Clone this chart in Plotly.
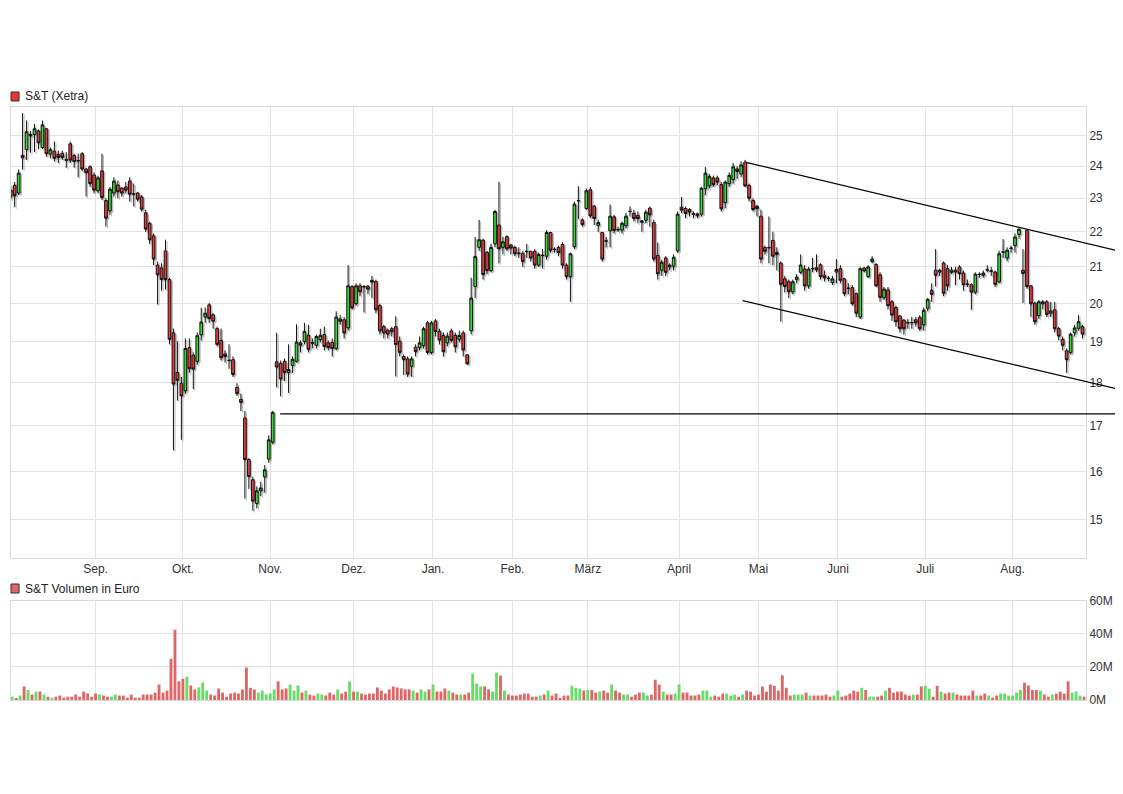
import math
import plotly.graph_objects as go

# ---------------- data ----------------
opens = [23.0, 23.35, 23.11, 24.3, 24.48, 24.98, 24.98, 25.1, 24.55, 25.17,
         24.34, 24.43, 24.32, 24.36, 24.16, 24.67, 24.29, 24.13, 24.35, 23.86,
         23.93, 23.67, 23.18, 23.8, 22.88, 22.57, 23.11, 23.36, 23.26, 23.3,
         23.48, 23.09, 23.11, 22.99, 22.51, 22.2, 21.83, 21.0, 20.92, 21.4,
         20.6, 19.19, 18.21, 17.95, 17.77, 18.82, 18.63, 18.48, 19.14, 19.6,
         19.92, 19.66, 19.3, 19.0, 18.66, 18.51, 18.52, 17.85, 17.57, 17.14,
         16.22, 15.79, 15.3, 15.56, 15.85, 16.23, 16.6, 18.47, 18.43, 18.48,
         18.21, 18.38, 18.48, 18.94, 18.97, 19.13, 18.95, 18.88, 19.02, 19.15,
         18.94, 18.95, 18.8, 19.55, 19.53, 19.32, 20.41, 19.95, 20.43, 20.41,
         20.42, 20.58, 20.55, 19.9, 19.35, 19.26, 19.3, 19.35, 18.98, 18.6,
         18.54, 18.36, 18.83, 18.82, 18.87, 19.45, 18.7, 19.5, 19.23, 19.13,
         18.94, 19.24, 19.13, 19.03, 19.19, 18.64, 19.25, 20.41, 21.5, 21.71,
         21.36, 20.85, 21.6, 22.15, 21.5, 21.81, 21.57, 21.5, 21.34, 21.33,
         21.39, 21.39, 21.39, 21.0, 21.28, 21.25, 21.93, 21.45, 21.5, 21.58,
         21.0, 20.68, 21.52, 22.87, 22.3, 22.64, 23.21, 22.71, 22.14, 21.93,
         21.69, 21.98, 22.39, 22.02, 22.0, 22.13, 22.56, 22.49, 22.43, 22.23,
         22.29, 22.65, 22.22, 21.27, 20.86, 21.2, 21.0, 20.97, 21.4, 22.68,
         22.64, 22.61, 22.48, 22.48, 22.47, 23.24, 23.33, 23.58, 23.58, 23.37,
         22.82, 23.4, 23.53, 23.86, 23.7, 24.08, 23.35, 22.88, 22.71, 22.41,
         21.5, 21.5, 21.7, 21.36, 21.06, 20.62, 20.54, 20.27, 20.6, 20.8,
         20.89, 20.43, 20.91, 20.93, 21.01, 20.72, 20.64, 20.52, 20.81, 20.9,
         20.62, 20.37, 20.38, 20.22, 19.6, 20.92, 20.68, 21.1, 21.02, 20.73,
         20.11, 20.32, 20.0, 19.85, 19.63, 19.52, 19.46, 19.45, 19.53, 19.59,
         19.4, 19.83, 20.31, 20.86, 20.81, 21.06, 20.9, 20.8, 20.86, 20.95,
         20.78, 20.48, 20.46, 20.26, 20.75, 20.78, 20.86, 20.84, 20.81, 20.54,
         21.36, 21.2, 21.47, 21.55, 21.87, 20.86, 21.99, 20.43, 19.97, 19.64,
         20.0, 20.0, 19.7, 19.79, 19.3, 19.03, 18.74, 18.7, 19.19, 19.31,
         19.35]

highs = [23.35, 23.45, 23.84, 25.7, 25.45, 25.1, 25.33, 25.15, 25.45, 25.2,
         24.55, 24.75, 24.45, 24.45, 24.4, 24.75, 24.35, 24.35, 24.4, 23.9,
         23.98, 23.75, 23.65, 24.35, 22.95, 23.3, 23.6, 23.5, 23.3, 23.45,
         23.6, 23.4, 23.15, 23.05, 22.6, 22.25, 21.9, 21.1, 21.05, 21.72,
         20.65, 19.3, 18.98, 18.1, 19.05, 19.05, 18.7, 19.2, 19.84, 19.85,
         19.97, 19.7, 19.35, 19.3, 18.75, 18.9, 18.6, 17.95, 17.7, 17.3,
         16.25, 15.85, 15.65, 15.75, 16.1, 16.75, 17.3, 19.19, 18.5, 18.55,
         18.9, 18.6, 19.41, 19.0, 19.45, 19.4, 19.05, 19.15, 19.3, 19.35,
         19.0, 19.05, 19.75, 19.65, 19.6, 21.0, 20.45, 20.5, 20.5, 20.45,
         20.45, 20.7, 20.6, 19.95, 19.4, 19.3, 19.35, 19.62, 19.1, 18.65,
         18.6, 18.6, 18.9, 19.1, 19.35, 19.5, 19.5, 19.55, 19.3, 19.2,
         19.2, 19.3, 19.2, 19.25, 19.25, 18.66, 20.65, 21.8, 22.3, 21.75,
         21.4, 21.6, 22.6, 23.46, 21.8, 21.85, 21.6, 21.55, 21.5, 21.4,
         21.6, 21.4, 21.45, 21.35, 21.45, 22.0, 21.95, 21.5, 21.55, 21.65,
         21.05, 21.35, 22.85, 23.32, 22.35, 23.25, 23.3, 22.75, 22.3, 21.95,
         21.8, 22.76, 22.45, 22.1, 22.25, 22.5, 22.7, 22.6, 22.55, 22.3,
         22.6, 22.7, 22.3, 21.64, 21.15, 21.25, 21.05, 21.3, 22.55, 22.99,
         22.7, 22.65, 22.55, 22.52, 23.3, 23.92, 23.7, 23.65, 23.65, 23.45,
         23.5, 23.75, 24.05, 23.95, 24.1, 24.15, 23.4, 22.95, 22.75, 22.6,
         21.55, 22.4, 21.95, 21.5, 21.1, 20.7, 20.6, 20.6, 20.75, 21.3,
         21.0, 20.95, 21.2, 21.3, 21.05, 20.85, 20.7, 20.7, 21.17, 21.0,
         20.65, 20.5, 20.45, 20.25, 20.95, 20.95, 21.0, 21.25, 21.05, 20.8,
         20.4, 20.4, 20.05, 19.9, 19.65, 19.55, 19.55, 19.6, 19.6, 19.65,
         19.85, 20.1, 20.5, 21.45, 20.9, 21.1, 21.0, 20.95, 20.95, 21.0,
         20.85, 20.6, 20.5, 20.8, 20.8, 20.85, 21.0, 20.95, 20.85, 21.4,
         21.74, 21.5, 21.55, 21.9, 22.05, 21.45, 22.0, 20.45, 20.0, 20.05,
         20.05, 20.05, 20.0, 20.0, 19.35, 19.1, 18.8, 19.2, 19.4, 19.65,
         19.4]

lows = [22.9, 22.68, 23.05, 23.84, 24.15, 24.38, 24.4, 24.5, 24.5, 24.25,
        24.2, 24.1, 24.05, 24.15, 23.9, 24.05, 23.9, 23.6, 23.8, 23.0,
        23.3, 23.1, 23.1, 22.9, 22.1, 22.45, 23.0, 22.95, 23.0, 23.1,
        22.85, 22.7, 22.85, 22.55, 21.95, 21.6, 21.0, 19.93, 20.3, 20.33,
        18.9, 16.42, 17.54, 16.65, 17.7, 18.2, 17.81, 18.4, 19.0, 19.45,
        19.45, 19.3, 18.85, 18.5, 18.45, 18.3, 18.1, 17.65, 17.3, 15.4,
        15.6, 15.15, 15.2, 15.45, 15.52, 16.15, 16.55, 17.85, 17.64, 18.0,
        17.72, 18.2, 18.45, 18.7, 18.9, 18.7, 18.8, 18.8, 18.95, 18.75,
        18.75, 18.6, 18.75, 19.4, 19.05, 19.25, 19.8, 19.9, 20.15, 19.72,
        20.2, 20.1, 19.7, 19.15, 19.05, 19.05, 19.1, 18.11, 18.6, 18.15,
        18.1, 18.1, 18.6, 18.75, 18.8, 18.65, 18.65, 19.1, 18.9, 18.6,
        18.85, 18.95, 18.7, 18.95, 18.6, 18.4, 19.15, 20.1, 21.4, 20.6,
        20.75, 20.8, 21.5, 21.05, 21.3, 21.4, 21.3, 21.25, 21.2, 20.95,
        21.2, 21.1, 20.9, 20.95, 20.9, 21.15, 21.35, 21.35, 21.25, 20.9,
        20.6, 20.0, 21.45, 22.32, 22.1, 22.6, 22.35, 22.15, 21.95, 21.1,
        21.5, 21.5, 21.9, 21.95, 21.9, 22.05, 22.4, 22.25, 22.2, 21.95,
        22.2, 22.1, 21.1, 20.6, 20.7, 20.7, 20.85, 20.85, 21.35, 22.5,
        22.35, 22.4, 22.35, 22.35, 22.4, 23.04, 23.25, 23.3, 23.35, 22.55,
        22.65, 23.3, 23.4, 23.55, 23.6, 23.3, 22.85, 22.55, 22.4, 21.05,
        21.3, 21.05, 21.0, 20.85, 19.48, 20.25, 20.1, 20.2, 20.5, 20.75,
        20.3, 20.35, 20.8, 20.8, 20.6, 20.55, 20.55, 20.45, 20.5, 20.5,
        20.15, 20.2, 19.9, 19.6, 19.55, 20.8, 20.65, 21.05, 20.4, 20.0,
        20.05, 19.8, 19.5, 19.35, 19.2, 19.15, 19.3, 19.3, 19.35, 19.25,
        19.25, 19.75, 20.0, 20.41, 20.7, 20.15, 20.3, 20.75, 20.45, 20.6,
        20.3, 20.4, 19.79, 20.2, 20.65, 20.65, 20.8, 20.7, 20.4, 20.5,
        21.2, 21.1, 21.35, 21.35, 21.75, 19.97, 20.35, 19.6, 19.4, 19.55,
        19.8, 19.6, 19.6, 19.2, 19.0, 18.75, 18.2, 18.65, 19.1, 19.25,
        19.05]

closes = [23.2, 23.03, 23.73, 24.22, 25.07, 24.93, 25.17, 24.7, 25.3, 24.35,
          24.48, 24.2, 24.23, 24.23, 24.14, 24.14, 24.1, 24.12, 23.86, 23.74,
          23.4, 23.2, 23.58, 22.97, 22.35, 23.23, 23.48, 23.15, 23.11, 23.2,
          23.07, 23.08, 22.92, 22.62, 22.03, 21.72, 21.17, 20.73, 20.6, 20.6,
          19.03, 17.93, 18.02, 17.65, 18.8, 18.3, 18.29, 19.12, 19.47, 19.7,
          19.56, 19.49, 18.9, 18.57, 18.6, 18.5, 18.16, 17.71, 17.5, 16.22,
          15.86, 15.35, 15.56, 15.62, 16.0, 16.65, 17.27, 18.34, 18.05, 18.21,
          18.28, 18.53, 18.96, 18.88, 19.23, 18.78, 18.93, 19.1, 19.13, 18.85,
          18.82, 18.8, 19.6, 19.49, 19.19, 20.43, 19.84, 20.43, 20.27, 20.4,
          20.34, 20.53, 19.79, 19.24, 19.19, 19.16, 19.22, 18.9, 18.7, 18.52,
          18.17, 18.54, 18.72, 18.94, 19.3, 18.7, 19.45, 19.23, 19.01, 18.72,
          19.11, 19.0, 18.84, 19.13, 18.76, 18.42, 20.1, 21.24, 21.72, 20.74,
          20.85, 21.5, 22.55, 21.46, 21.66, 21.46, 21.48, 21.32, 21.33, 21.1,
          21.38, 21.2, 21.0, 21.3, 21.27, 21.93, 21.42, 21.44, 21.35, 21.0,
          20.68, 21.32, 22.77, 22.88, 22.16, 23.18, 22.42, 22.34, 22.22, 21.17,
          21.68, 22.41, 21.99, 22.01, 22.2, 22.41, 22.55, 22.34, 22.34, 22.27,
          22.53, 22.45, 21.17, 20.76, 21.08, 20.8, 20.95, 21.22, 22.47, 22.59,
          22.49, 22.53, 22.47, 22.42, 23.26, 23.73, 23.62, 23.37, 23.45, 22.63,
          23.45, 23.66, 23.93, 23.78, 23.99, 23.33, 22.95, 22.61, 22.64, 21.17,
          21.39, 21.49, 21.25, 21.3, 20.47, 20.41, 20.27, 20.54, 20.67, 21.0,
          20.43, 20.89, 20.9, 20.87, 20.68, 20.65, 20.63, 20.62, 20.88, 20.58,
          20.22, 20.36, 19.95, 19.7, 20.9, 20.84, 20.95, 21.17, 20.43, 20.12,
          20.34, 19.9, 19.65, 19.48, 19.3, 19.3, 19.45, 19.46, 19.45, 19.3,
          19.78, 20.07, 20.2, 20.72, 20.86, 20.23, 20.43, 20.86, 20.81, 20.76,
          20.46, 20.47, 20.26, 20.75, 20.74, 20.72, 20.87, 20.83, 20.47, 21.32,
          21.37, 21.42, 21.48, 21.8, 22.03, 20.77, 20.41, 19.95, 19.48, 20.0,
          19.95, 19.67, 19.76, 19.3, 19.11, 18.88, 18.52, 19.16, 19.32, 19.48,
          19.16]

# traded volume in million euro
volumes_m = [2.0, 1.2, 2.7, 8.2, 6.1, 3.3, 5.1, 5.1, 3.3, 2.0,
             1.4, 2.0, 2.7, 1.4, 2.0, 2.0, 3.3, 2.0, 5.1, 3.9,
             2.0, 3.9, 3.3, 2.7, 2.0, 2.0, 3.3, 2.7, 2.7, 1.4,
             3.3, 1.4, 1.4, 3.3, 3.3, 3.3, 4.5, 9.4, 4.5, 5.7,
             25.0, 42.6, 11.3, 12.9, 14.1, 8.8, 6.4, 7.6, 10.7, 5.7,
             3.3, 2.7, 7.0, 4.5, 2.0, 3.9, 4.5, 3.9, 6.4, 19.7,
             7.4, 6.4, 4.5, 5.7, 3.3, 3.9, 6.4, 11.3, 6.4, 7.0,
             9.4, 5.7, 8.8, 4.5, 5.7, 3.3, 2.7, 3.9, 3.3, 2.7,
             4.5, 3.3, 6.4, 3.9, 5.1, 11.3, 5.1, 5.1, 3.9, 3.3,
             3.9, 3.9, 7.6, 5.7, 3.9, 6.4, 8.2, 7.6, 7.0, 6.4,
             6.4, 5.7, 4.5, 6.4, 5.1, 6.4, 9.4, 5.1, 5.1, 7.0,
             5.7, 4.5, 3.3, 3.3, 3.3, 4.5, 16.0, 10.0, 8.2, 8.2,
             6.4, 5.1, 16.6, 14.8, 5.7, 3.3, 2.7, 2.7, 3.3, 3.9,
             3.9, 2.0, 2.0, 2.7, 3.3, 5.7, 2.7, 3.9,
             1.2, 2.7, 2.7, 8.6, 7.4, 6.8, 5.7, 6.1, 6.1, 4.5,
             5.1, 5.7, 4.5, 9.4, 5.7, 4.5, 3.3, 3.3, 2.0, 3.3,
             4.5, 4.5, 2.7, 3.3, 12.3, 9.4, 5.1, 3.3, 3.3, 3.9,
             9.4, 4.5, 4.5, 2.7, 2.7, 3.3, 5.7, 5.7, 2.0, 2.7,
             2.0, 3.9, 3.9, 2.7, 3.3, 2.0, 3.3, 5.7, 5.1, 2.7,
             3.3, 8.2, 5.1, 9.4, 8.6, 5.7, 15.0, 7.4, 2.7, 3.3,
             3.3, 3.3, 4.5, 2.7, 2.7, 2.7, 2.7, 3.3, 2.0, 2.7,
             5.7, 2.0, 2.7, 3.9, 5.7, 5.1, 7.4, 6.1, 2.0, 2.0,
             2.0, 2.7, 5.7, 7.4, 4.5, 5.1, 5.1, 3.3, 2.7, 3.3,
             3.3, 8.2, 8.6, 6.8, 2.0, 8.6, 5.1, 3.9, 4.5, 4.5,
             3.3, 2.7, 2.7, 2.7, 5.7, 2.7, 2.7, 3.9, 2.7, 1.4,
             2.7, 3.9, 3.9, 2.7, 2.7, 4.5, 6.1, 10.5, 8.8, 6.1,
             6.1, 5.7, 3.3, 2.0, 3.3, 3.9, 5.1, 3.9, 11.3, 4.5,
             5.1, 2.7, 2.0]

# month boundaries (trading-day index) and labels
month_pos = [21, 43, 65, 86, 106, 126, 145, 168, 188, 208, 230, 252]
month_labels = ["Sep.", "Okt.", "Nov.", "Dez.", "Jan.", "Feb.", "März",
                "April", "Mai", "Juni", "Juli", "Aug."]

price_ticks = [15, 16, 17, 18, 19, 20, 21, 22, 23, 24, 25]
vol_ticks_m = [0, 20, 40, 60]
vol_tick_labels = ["0M", "20M", "40M", "60M"]

# drawn trend lines: (trading-day index, price)
upper_idx, upper_px = [185.1, 279.8], [24.11, 21.41]
lower_idx, lower_px = [184.0, 279.8], [20.07, 17.82]
support_idx, support_px = [67.5, 277.8], [17.27, 17.27]

# ---------------- figure ----------------
idx = list(range(len(opens)))
XR = [-0.3, 270.5]
YR = [math.log10(14.26), math.log10(25.96)]
PRICE_DOMAIN = [0.2395, 1.0]
PLOT_H_PX = 593.0

# the candles sit on an overlay axis pair whose ranges are nudged so that the
# grey shadow (drawn on the base axes) peeks out to the lower right
px_per_x = 1075.0 / (XR[1] - XR[0])
nudge_x = 1.5 / px_per_x
nudge_y = 1.5 * (YR[1] - YR[0]) / (PLOT_H_PX * (PRICE_DOMAIN[1] - PRICE_DOMAIN[0]))

GREEN = "#33dd33"
RED = "#ee3b3b"
GRID = "#e2e2e2"
BORDER = "#d9d9d9"
TXT = "#333333"

fig = go.Figure()
# grey drop shadow on the base price axes
fig.add_trace(go.Candlestick(
    x=idx, open=opens, high=highs, low=lows, close=closes,
    increasing=dict(fillcolor="#a6a6a6", line=dict(color="#a6a6a6", width=1)),
    decreasing=dict(fillcolor="#a6a6a6", line=dict(color="#a6a6a6", width=1)),
    whiskerwidth=0, opacity=0.8, xaxis="x", yaxis="y", showlegend=False,
    hoverinfo="skip"))
# candles on the overlay axes (drawn above the base subplot)
fig.add_trace(go.Candlestick(
    x=idx, open=opens, high=highs, low=lows, close=closes,
    increasing=dict(fillcolor=GREEN, line=dict(color="#111111", width=1)),
    decreasing=dict(fillcolor=RED, line=dict(color="#111111", width=1)),
    whiskerwidth=0, xaxis="x3", yaxis="y3", showlegend=False, hoverinfo="skip"))

vol_colors = ["#66dd66" if c > o else ("#e06666" if c < o else "#c8c8c8")
              for o, c in zip(opens, closes)]
fig.add_trace(go.Bar(
    x=idx, y=[v * 1e6 for v in volumes_m],
    marker=dict(color=vol_colors, line=dict(width=0)),
    width=0.72, xaxis="x2", yaxis="y2", showlegend=False, hoverinfo="skip"))

axis_common = dict(showgrid=True, gridcolor=GRID, gridwidth=1, zeroline=False,
                   showline=True, mirror=True, linecolor=BORDER, linewidth=1,
                   ticks="", fixedrange=True)

fig.update_layout(
    width=1123, height=794,
    margin=dict(l=3, r=45, t=99, b=102),
    paper_bgcolor="white", plot_bgcolor="white",
    font=dict(family="Liberation Sans, Arial, sans-serif", size=12, color=TXT),
    boxgap=0.04,
    boxmode="overlay",
    bargap=0.2,
    xaxis=dict(domain=[0, 1], anchor="y", range=XR, tickvals=month_pos,
               ticktext=month_labels, rangeslider=dict(visible=False),
               tickfont=dict(size=12, color=TXT), **axis_common),
    yaxis=dict(domain=PRICE_DOMAIN, anchor="x", type="log", range=YR,
               side="right", tickvals=price_ticks,
               ticktext=[str(t) for t in price_ticks],
               tickfont=dict(size=12, color=TXT), **axis_common),
    xaxis3=dict(overlaying="x", anchor="y3", visible=False, fixedrange=True,
                showgrid=False, zeroline=False, rangeslider=dict(visible=False),
                range=[XR[0] + nudge_x, XR[1] + nudge_x]),
    yaxis3=dict(overlaying="y", anchor="x3", visible=False, fixedrange=True,
                showgrid=False, zeroline=False, type="log",
                range=[YR[0] - nudge_y, YR[1] - nudge_y]),
    xaxis2=dict(domain=[0, 1], anchor="y2", range=XR, tickvals=month_pos,
                showticklabels=False, **axis_common),
    yaxis2=dict(domain=[0, 0.16695], anchor="x2", range=[0, 60e6],
                side="right", tickvals=[v * 1e6 for v in vol_ticks_m],
                ticktext=vol_tick_labels,
                tickfont=dict(size=12, color=TXT), **axis_common),
)


def xd(v):
    return (v - XR[0]) / (XR[1] - XR[0])


def yd(p):
    return (math.log10(p) - YR[0]) / (YR[1] - YR[0])


shapes = []
for xs, ps in [(upper_idx, upper_px), (lower_idx, lower_px), (support_idx, support_px)]:
    shapes.append(dict(type="line", xref="x domain", yref="y domain",
                       x0=xd(xs[0]), y0=yd(ps[0]), x1=xd(xs[1]), y1=yd(ps[1]),
                       line=dict(color="#000000", width=1.2)))

# legend squares for the two panel titles
shapes.append(dict(type="rect", xref="paper", yref="paper",
                   x0=0.0, x1=0.0075, y0=1.0101, y1=1.0253,
                   fillcolor="#e83535", line=dict(color="#333333", width=1)))
shapes.append(dict(type="rect", xref="paper", yref="paper",
                   x0=0.0, x1=0.0075, y0=0.1804, y1=0.1956,
                   fillcolor="#dd6666", line=dict(color="#333333", width=1)))
fig.update_layout(shapes=shapes)

fig.add_annotation(text="S&T (Xetra)", xref="paper", yref="paper",
                   x=0.0112, y=1.0185, xanchor="left", yanchor="middle",
                   showarrow=False, font=dict(size=12, color="#222222"))
fig.add_annotation(text="S&T Volumen in Euro", xref="paper", yref="paper",
                   x=0.0112, y=0.1872, xanchor="left", yanchor="middle",
                   showarrow=False, font=dict(size=12, color="#222222"))

fig.write_html("out.html")
